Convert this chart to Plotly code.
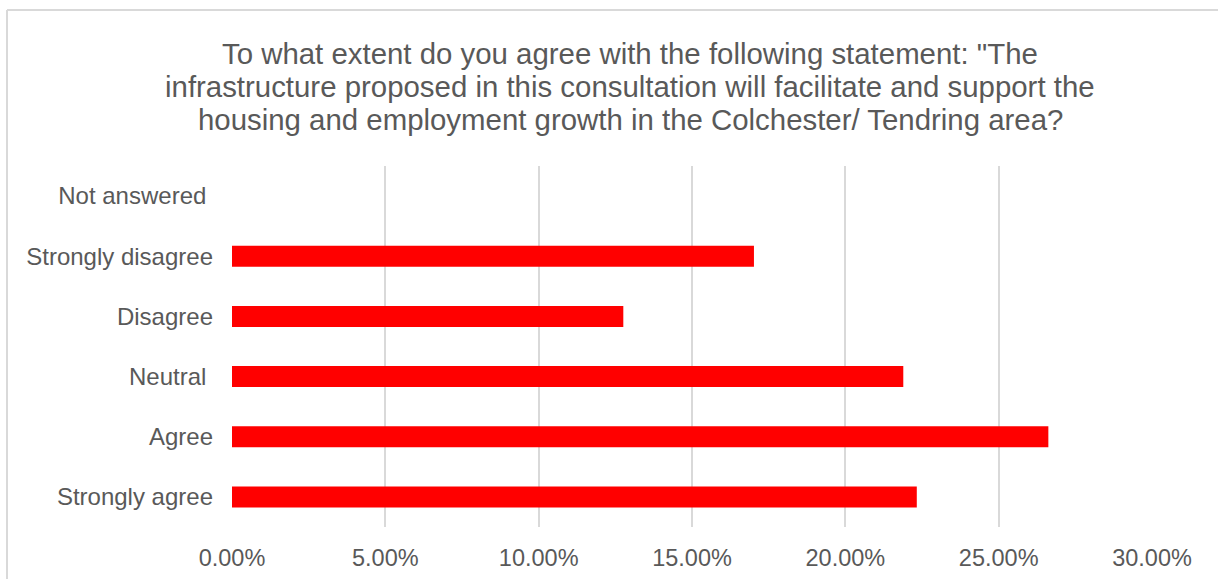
import plotly.graph_objects as go

categories = ["Strongly agree", "Agree", "Neutral\u00a0", "Disagree", "Strongly disagree", "Not answered\u00a0"]
shares = [0.2233, 0.2662, 0.2189, 0.1276, 0.1702, 0.0]
tick_values = [0.0, 0.05, 0.10, 0.15, 0.20, 0.25, 0.30]
title_lines = [
    'To what extent do you agree with the following statement: "The',
    "infrastructure proposed in this consultation will facilitate and support the",
    "housing and employment growth in the Colchester/ Tendring area?",
]

W, H = 1218, 579
L, R, T, B = 232, 66, 166, 52
PW, PH = W - L - R, H - T - B


def px_x(x):
    return (x - L) / PW


def px_y(y):
    return 1 + (T - y) / PH


TXT = "#595959"
GRID = "#d9d9d9"
FONT = "Liberation Sans, Arial, sans-serif"

fig = go.Figure(
    go.Bar(
        x=shares,
        y=categories,
        orientation="h",
        marker=dict(color="#ff0000", line=dict(width=0)),
        hoverinfo="x+y",
    )
)

annotations = []
for line, yc in zip(title_lines, [53.0, 86.5, 119.5]):
    annotations.append(
        dict(
            text=line,
            x=px_x(630),
            y=px_y(yc),
            xref="paper",
            yref="paper",
            xanchor="center",
            yanchor="middle",
            showarrow=False,
            font=dict(family=FONT, size=29.4, color=TXT),
        )
    )

fig.update_layout(
    width=W,
    height=H,
    margin=dict(l=L, r=R, t=T, b=B, autoexpand=False),
    paper_bgcolor="white",
    plot_bgcolor="white",
    bargap=0.65,
    showlegend=False,
    annotations=annotations,
    font=dict(family=FONT, color=TXT, size=24),
    xaxis=dict(
        range=[0, 0.3],
        tickvals=tick_values,
        tickformat=".2%",
        showgrid=True,
        gridcolor=GRID,
        gridwidth=2,
        zeroline=False,
        showline=False,
        ticks="",
        ticklabelstandoff=14,
        tickfont=dict(family=FONT, size=23.5, color=TXT),
        fixedrange=True,
    ),
    yaxis=dict(
        categoryorder="array",
        categoryarray=categories,
        showgrid=False,
        zeroline=False,
        showline=False,
        ticks="",
        ticklabelstandoff=18,
        tickfont=dict(family=FONT, size=24, color=TXT),
        fixedrange=True,
    ),
    shapes=[
        dict(type="line", xref="paper", yref="paper",
             x0=px_x(7), x1=px_x(1230), y0=px_y(10), y1=px_y(10),
             line=dict(color=GRID, width=2)),
        dict(type="line", xref="paper", yref="paper",
             x0=px_x(7), x1=px_x(7), y0=px_y(10), y1=px_y(600),
             line=dict(color=GRID, width=2)),
    ],
)

fig.write_html(
    "out.html",
    config={"displayModeBar": False},
    post_script="document.body.style.margin='0';document.body.style.overflow='hidden';",
)
